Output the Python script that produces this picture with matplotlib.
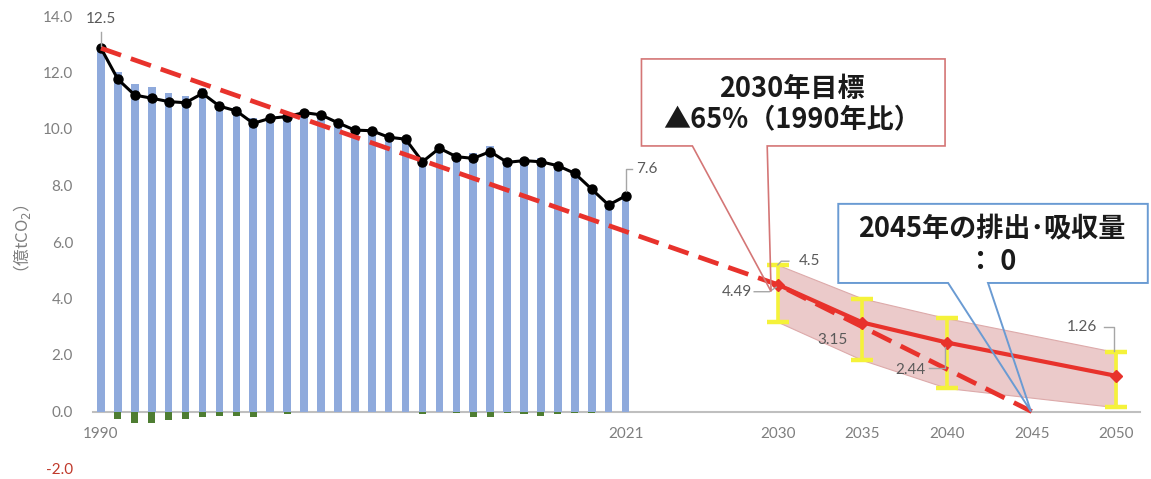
import matplotlib
matplotlib.use("Agg")
import matplotlib.pyplot as plt
from matplotlib.patches import Polygon

plt.rcParams['font.family'] = ['Lato', 'Noto Sans CJK JP', 'DejaVu Sans']

# ---------------- data ----------------
years = list(range(1990, 2022))
gross_emissions = [12.86, 12.01, 11.59, 11.48, 11.27, 11.18, 11.45, 10.96, 10.79, 10.40,
                   10.38, 10.52, 10.58, 10.50, 10.22, 9.96, 9.94, 9.71, 9.64, 8.92,
                   9.32, 9.08, 9.16, 9.40, 8.88, 8.96, 8.99, 8.78, 8.49, 7.93,
                   7.31, 7.63]
absorption = [0.00, -0.25, -0.39, -0.39, -0.30, -0.25, -0.19, -0.15, -0.15, -0.20,
              0.00, -0.08, 0.00, 0.00, 0.00, 0.00, 0.00, 0.00, 0.00, -0.08,
              0.00, -0.06, -0.20, -0.20, -0.06, -0.08, -0.15, -0.08, -0.06, -0.06,
              0.00, 0.00]
net_emissions = [12.86, 11.76, 11.20, 11.09, 10.97, 10.93, 11.26, 10.81, 10.64, 10.20,
                 10.38, 10.44, 10.58, 10.50, 10.22, 9.96, 9.94, 9.71, 9.64, 8.84,
                 9.32, 9.02, 8.96, 9.20, 8.82, 8.88, 8.84, 8.70, 8.43, 7.87,
                 7.31, 7.63]

target_years = [1990, 2030, 2045]
target_values = [12.86, 4.49, 0.0]

proj_years = [2030, 2035, 2040, 2050]
proj_values = [4.49, 3.15, 2.44, 1.26]
proj_low = [3.17, 1.82, 0.83, 0.15]
proj_high = [5.19, 4.00, 3.30, 2.10]

xticks = [1990, 2021, 2030, 2035, 2040, 2045, 2050]
yticks = [-2, 0, 2, 4, 6, 8, 10, 12, 14]

# ---------------- figure ----------------
W, H = 1151, 479
fig = plt.figure(figsize=(W / 100, H / 100), dpi=100)
ax = fig.add_axes([92.5 / W, 1 - 468 / H, (1140 - 92.5) / W, (468 - 16) / H])
ax.set_xlim(1989.5, 2051.4)
ax.set_ylim(-2, 14)

grey_lbl = '#595959'
tick_grey = '#7F7F7F'
red = '#E8322C'

# bars
ax.bar(years, gross_emissions, width=0.45, color='#8FAADC', zorder=2)
ax.bar(years, absorption, width=0.42, color='#4E7D32', zorder=2)

# projection band
ax.fill_between(proj_years, proj_low, proj_high, color='#EBCACA', edgecolor='#DDAAAA',
                lw=0.8, zorder=2)

# error bars
err_lo = [v - l for v, l in zip(proj_values, proj_low)]
err_hi = [h - v for v, h in zip(proj_values, proj_high)]
ax.errorbar(proj_years, proj_values, yerr=[err_lo, err_hi], fmt='none',
            ecolor='#F5F23A', elinewidth=2.6, capsize=8, capthick=3.2, zorder=3)

# net emission line
ax.plot(years, net_emissions, color='black', lw=2.2, marker='o', ms=6.5, zorder=4)

# target dashed line
ax.plot(target_years, target_values, color=red, lw=3.4, dashes=(4.5, 2.2), zorder=5)

# projection line
ax.plot(proj_years, proj_values, color=red, lw=3, marker='D', ms=6, zorder=6)

# axes styling
for s in ['top', 'right', 'left']:
    ax.spines[s].set_visible(False)
ax.spines['bottom'].set_position(('data', 0))
ax.spines['bottom'].set_color('#BFBFBF')
ax.spines['bottom'].set_linewidth(1.5)
ax.spines['bottom'].set_zorder(1)
ax.set_xticks(xticks)
ax.set_xticklabels([str(x) for x in xticks])
ax.set_yticks(yticks)
ax.set_yticklabels([f'{y:.1f}' for y in yticks])
ax.tick_params(axis='x', length=0, pad=11, labelsize=11, labelcolor=tick_grey)
ax.tick_params(axis='y', length=0, pad=14, labelsize=11, labelcolor=tick_grey)
ax.get_yticklabels()[0].set_color('#C0392B')

# y label
fig.text(22 / W, 1 - 243 / H, '（億tCO$_2$）', rotation=90, ha='center', va='center',
         color=tick_grey, fontsize=12, family=['Noto Sans CJK JP', 'DejaVu Sans'])

# data labels with leader lines
lead = dict(color='#A6A6A6', lw=1, zorder=7, clip_on=False)
lbl = dict(color=grey_lbl, fontsize=11, zorder=8)
ax.text(1990, 13.9, '12.5', ha='center', va='center', **lbl)
ax.plot([1990, 1990], [13.45, 12.95], **lead)

ax.text(2021.6, 8.6, '7.6', ha='left', va='center', **lbl)
ax.plot([2021, 2021, 2021.4], [7.8, 8.6, 8.6], **lead)

ax.text(2031.25, 5.33, '4.5', ha='left', va='center', **lbl)
ax.plot([2030.0, 2030.2, 2030.65], [5.19, 5.32, 5.32], **lead)

ax.text(2028.5, 4.24, '4.49', ha='right', va='center', **lbl)
ax.plot([2028.6, 2029.5, 2029.9], [4.24, 4.24, 4.4], **lead)

ax.text(2033.2, 2.53, '3.15', ha='center', va='center', **lbl)

ax.text(2037.85, 1.47, '2.44', ha='center', va='center', **lbl)
ax.plot([2038.95, 2039.85, 2039.85], [1.54, 1.54, 2.3], **lead)

ax.text(2047.95, 2.98, '1.26', ha='center', va='center', **lbl)
ax.plot([2049.25, 2049.85, 2049.85], [3.0, 3.0, 2.15], **lead)

# callouts
red_box = [(2021.94, 12.48), (2039.88, 12.48), (2039.88, 9.40), (2029.37, 9.40),
           (2029.6, 4.25), (2024.95, 9.40), (2021.94, 9.40)]
ax.add_patch(Polygon(red_box, closed=True, facecolor='none', edgecolor='#D47676',
                     lw=1.2, zorder=9, clip_on=False))
blue_box = [(2033.57, 7.35), (2051.86, 7.35), (2051.86, 4.55), (2042.42, 4.55),
            (2044.96, 0.0), (2040.06, 4.55), (2033.57, 4.55)]
ax.add_patch(Polygon(blue_box, closed=True, facecolor='none', edgecolor='#6A9BD3',
                     lw=1.4, zorder=9, clip_on=False))

cj = dict(family=['Noto Sans CJK JP', 'DejaVu Sans'], fontsize=19.5, fontweight='bold',
          color='#1a1a1a', ha='center', va='center', zorder=10)
ax.text(2030.85, 11.42, '2030年目標', **cj)
ax.text(2030.85, 10.35, '▲65%（1990年比）', **cj)
ax.text(2042.66, 6.46, '2045年の排出･吸収量', **cj)
ax.text(2042.66, 5.29, '： 0', **cj)

fig.savefig('out.png', dpi=100)
